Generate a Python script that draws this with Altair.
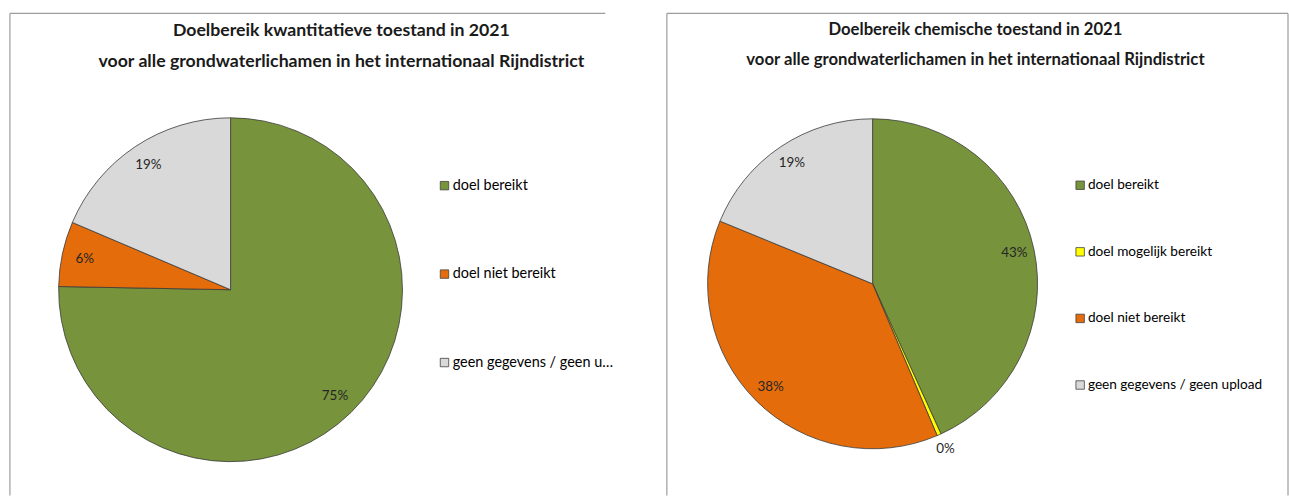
import altair as alt
import pandas as pd

FONT = "Lato"

# ---- data ----
left_title = ["Doelbereik kwantitatieve toestand in 2021",
              "voor alle grondwaterlichamen in het internationaal Rijndistrict"]
left_categories = ["doel bereikt", "doel niet bereikt", "geen gegevens / geen upload"]
left_values = [75.3, 6.1, 18.6]
left_colors = ["#77933C", "#E46C0A", "#D9D9D9"]

right_title = ["Doelbereik chemische toestand in 2021",
               "voor alle grondwaterlichamen in het internationaal Rijndistrict"]
right_categories = ["doel bereikt", "doel mogelijk bereikt", "doel niet bereikt",
                    "geen gegevens / geen upload"]
right_values = [43.2, 0.4, 37.6, 18.8]
right_colors = ["#77933C", "#FFFF00", "#E46C0A", "#D9D9D9"]

FRAME = "#9c9c9c"


def panel(cats, vals, colors, title, W, H, cx, cy, R, label_r,
          legend_x, legend_y, row_pad, label_limit, legend_fs,
          title_fs, title_dx, title_offset, title_lh, right_side):
    df = pd.DataFrame({"cat": cats, "value": vals, "idx": list(range(len(cats)))})
    base = (alt.Chart(df)
            .transform_joinaggregate(total="sum(value)")
            .transform_calculate(pct="datum.value / datum.total"))

    color = alt.Color(
        "cat:N",
        scale=alt.Scale(domain=cats, range=colors),
        sort=cats,
        legend=alt.Legend(
            title=None, orient="none", legendX=legend_x, legendY=legend_y,
            symbolType="square", symbolSize=72, symbolStrokeColor="#404040",
            symbolStrokeWidth=0.8, labelFont=FONT, labelFontSize=legend_fs,
            labelColor="#000000", rowPadding=row_pad, labelLimit=label_limit,
            labelOffset=1,
        ),
    )

    arc = base.mark_arc(radius=R, stroke="#3a3a3a", strokeWidth=0.8).encode(
        theta=alt.Theta("value:Q", stack=True),
        color=color,
        order=alt.Order("idx:Q"),
        x=alt.value(cx),
        y=alt.value(cy),
    )

    text = (base
            .transform_window(cum="sum(value)", sort=[alt.SortField("idx")],
                              frame=[None, 0])
            .transform_calculate(
                mid="(datum.cum - datum.value / 2) / datum.total * 2 * PI",
                r=f"datum.value < 1 ? {R + 16} : {label_r}")
            .mark_text(font=FONT, fontSize=13.5, color="#262626")
            .encode(
                theta=alt.Theta("mid:Q", scale=None),
                radius=alt.Radius("r:Q", scale=None),
                text=alt.Text("pct:Q", format=".0%"),
                x=alt.value(cx),
                y=alt.value(cy),
            ))

    fdf = pd.DataFrame({"a": [0]})
    layers = [
        alt.Chart(fdf).mark_rule(color=FRAME, strokeWidth=1.2).encode(
            x=alt.value(0), x2=alt.value(W), y=alt.value(0)),
        alt.Chart(fdf).mark_rule(color=FRAME, strokeWidth=1.2).encode(
            x=alt.value(0), y=alt.value(0), y2=alt.value(H)),
    ]
    if right_side:
        layers.append(alt.Chart(fdf).mark_rule(color=FRAME, strokeWidth=1.2).encode(
            x=alt.value(W), y=alt.value(0), y2=alt.value(H)))
    layers += [arc, text]

    return alt.layer(*layers).properties(
        width=W, height=H,
        title=alt.TitleParams(
            text=title, font=FONT, fontSize=title_fs, fontWeight="bold",
            color="#1a1a1a", anchor="middle", frame="group",
            offset=title_offset, dx=title_dx, lineHeight=title_lh,
        ),
    )


left = panel(left_categories, left_values, left_colors, left_title,
             599, 485, 222, 278, 173, 150, 430, 166, 74, 166, 14.5,
             17.8, 34, -58, 31, False)
right = panel(right_categories, right_values, right_colors, right_title,
              625, 485, 207, 272, 166, 146, 409, 166, 52, 300, 13.7,
              16.8, -2, -56, 30, True)

chart = (alt.hconcat(left, right, spacing=53)
         .resolve_scale(color="independent")
         .properties(padding={"left": 9, "top": 11, "right": 0, "bottom": 0},
                     background="white")
         .configure_view(stroke=None))

chart.save("out.html", embed_options={"renderer": "svg", "actions": False})
